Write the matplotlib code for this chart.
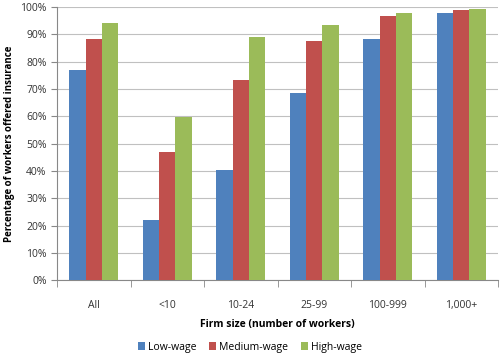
import numpy as np
import matplotlib.pyplot as plt
from matplotlib.ticker import PercentFormatter

categories = ['All', '<10', '10-24', '25-99', '100-999', '1,000+']
low_wage = [76.9, 22.2, 40.3, 68.4, 88.5, 98.0]
medium_wage = [88.4, 46.9, 73.3, 87.7, 96.8, 98.9]
high_wage = [94.1, 59.8, 89.1, 93.4, 98.0, 99.4]

plt.rcParams['font.family'] = ['Open Sans', 'DejaVu Sans']

fig = plt.figure(figsize=(5, 3.56), dpi=100)
ax = fig.add_axes([0.114, 0.213, 0.882, 0.767])

x = np.arange(len(categories))
w = 0.22
series = [(low_wage, '#4F81BD', 'Low-wage'),
          (medium_wage, '#C0504D', 'Medium-wage'),
          (high_wage, '#9BBB59', 'High-wage')]
for i, (vals, col, lab) in enumerate(series):
    ax.bar(x + (i - 1) * w, vals, w, color=col, label=lab, zorder=3)

ax.set_xlim(-0.5, len(categories) - 0.5)
ax.set_ylim(0, 100)
ax.set_yticks(np.arange(0, 101, 10))
ax.yaxis.set_major_formatter(PercentFormatter(decimals=0))
ax.grid(axis='y', color='#c0c0c0', linewidth=0.8, zorder=0)

ax.set_xticks(x)
ax.set_xticklabels(categories)
ax.set_xticks(np.arange(-0.5, len(categories)), minor=True)
ax.tick_params(axis='x', which='major', length=0, pad=14, labelsize=7.5, colors='#333333')
ax.tick_params(axis='x', which='minor', length=5, color='#888888')
ax.tick_params(axis='y', length=4, color='#888888', labelsize=7.5, colors='#333333')

for s in ['top', 'right']:
    ax.spines[s].set_visible(False)
for s in ['left', 'bottom']:
    ax.spines[s].set_color('#888888')

ax.set_ylabel('Percentage of workers offered insurance', fontsize=7, fontweight='bold')
ax.set_xlabel('Firm size (number of workers)', fontsize=7.5, fontweight='bold', labelpad=6)

fig.legend(loc='center', bbox_to_anchor=(0.5, 0.025), ncol=3, frameon=False,
           fontsize=7.5, handlelength=0.7, handleheight=0.7, columnspacing=1.2, handletextpad=0.3)

fig.savefig('out.png', dpi=100)
